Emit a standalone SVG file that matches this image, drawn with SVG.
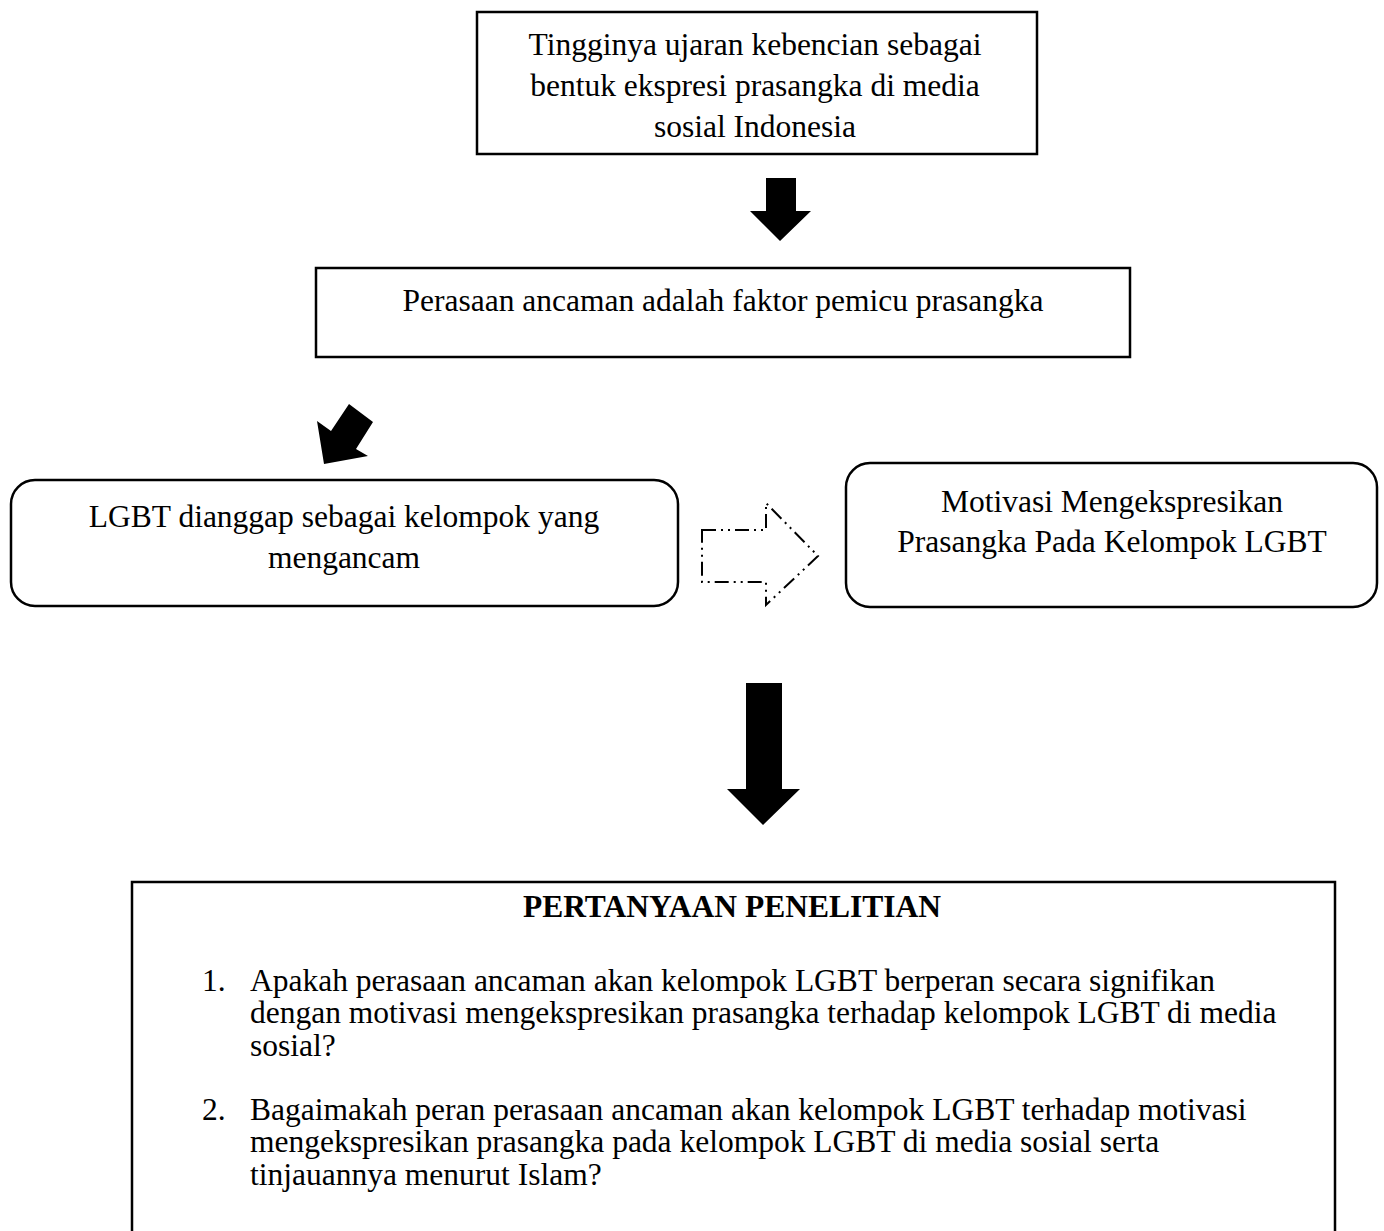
<svg xmlns="http://www.w3.org/2000/svg" width="1384" height="1231" viewBox="0 0 1384 1231">
<style>
.t{font-family:"Liberation Serif","Times New Roman",serif;font-size:31.5px;fill:#000}
.c{text-anchor:middle}
.b{font-weight:bold}
.box{fill:#fff;stroke:#000;stroke-width:2.5}
.arr{fill:#000;stroke:none}
</style>
<rect width="1384" height="1231" fill="#fff"/>
<g id="node-top">
<rect class="box" x="477" y="12" width="560" height="142"/>
<text class="t c" x="755" y="55">Tingginya ujaran kebencian sebagai</text>
<text class="t c" x="755" y="96">bentuk ekspresi prasangka di media</text>
<text class="t c" x="755" y="137">sosial Indonesia</text>
</g>
<g id="node-threat">
<rect class="box" x="316" y="268" width="814" height="89"/>
<text class="t c" x="723" y="311">Perasaan ancaman adalah faktor pemicu prasangka</text>
</g>
<g id="node-lgbt">
<rect class="box" x="11" y="480" width="667" height="126" rx="24" ry="24"/>
<text class="t c" x="344" y="527">LGBT dianggap sebagai kelompok yang</text>
<text class="t c" x="344" y="568">mengancam</text>
</g>
<g id="node-motivasi">
<rect class="box" x="846" y="463" width="531" height="144" rx="24" ry="24"/>
<text class="t c" x="1112" y="512">Motivasi Mengekspresikan</text>
<text class="t c" x="1112" y="552">Prasangka Pada Kelompok LGBT</text>
</g>
<g id="node-questions">
<rect class="box" x="132" y="882" width="1203" height="360"/>
<text class="t c b" x="732" y="917">PERTANYAAN PENELITIAN</text>
<text class="t" x="202" y="991">1.</text>
<text class="t" x="250" y="991">Apakah perasaan ancaman akan kelompok LGBT berperan secara signifikan</text>
<text class="t" x="250" y="1023">dengan motivasi mengekspresikan prasangka terhadap kelompok LGBT di media</text>
<text class="t" x="250" y="1056">sosial?</text>
<text class="t" x="202" y="1120">2.</text>
<text class="t" x="250" y="1120">Bagaimakah peran perasaan ancaman akan kelompok LGBT terhadap motivasi</text>
<text class="t" x="250" y="1152">mengekspresikan prasangka pada kelompok LGBT di media sosial serta</text>
<text class="t" x="250" y="1185">tinjauannya menurut Islam?</text>
</g>
<g id="connectors">
<polygon class="arr" points="766,178 796,178 796,211 811,211 780,241 750,211 766,211"/>
<polygon class="arr" points="324,464 317,421 331,431 349,404 373,422 356,449 368,456"/>
<polygon points="702,530 766,530 766,503 818,556 766,605 766,582 702,582" fill="none" stroke="#000" stroke-width="2" stroke-dasharray="14 5 2 5 2 5"/>
<polygon class="arr" points="746,683 782,683 782,789 800,789 763,825 727,789 746,789"/>
</g>
</svg>
